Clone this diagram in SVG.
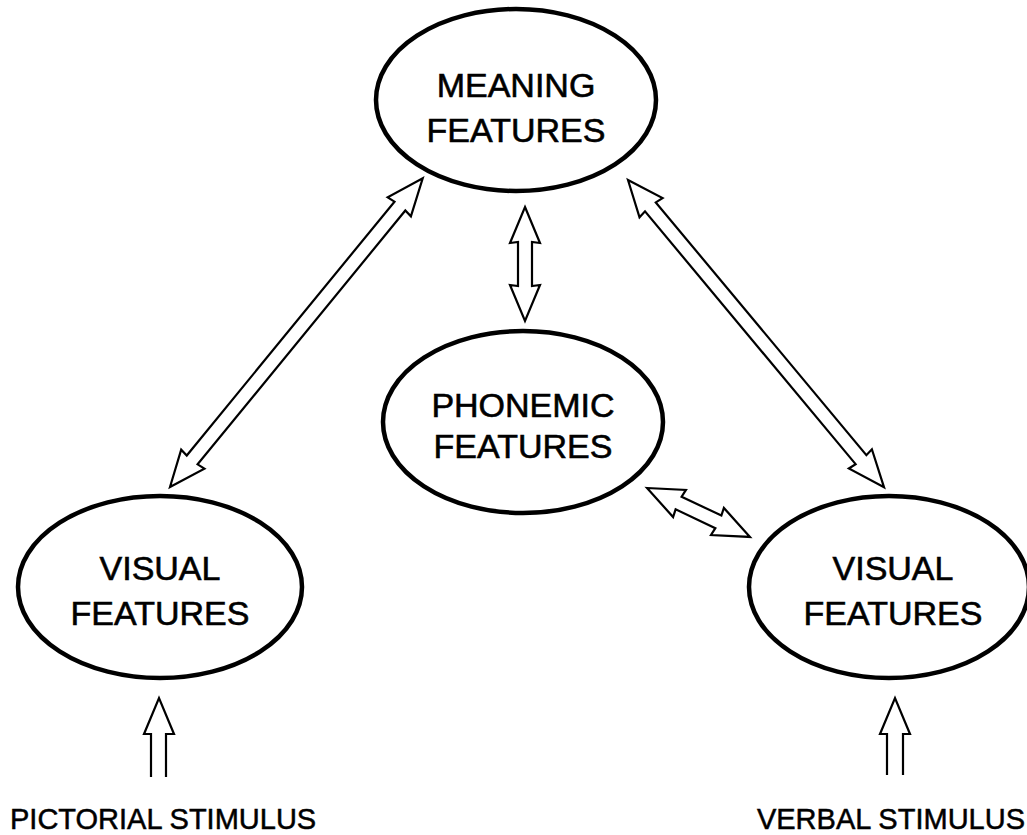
<svg xmlns="http://www.w3.org/2000/svg" width="1027" height="835" viewBox="0 0 1027 835">
<style>
.node{fill:#fff;stroke:#000;stroke-width:4.5}
.lbl{font-family:"Liberation Sans",Arial,sans-serif;font-size:34px;fill:#000;stroke:#000;stroke-width:0.6;text-anchor:middle}
.stim{font-family:"Liberation Sans",Arial,sans-serif;font-size:29px;fill:#000;stroke:#000;stroke-width:0.5}
.arr{fill:#fff;stroke:#000;stroke-width:2.2;stroke-linejoin:miter}
</style>
<rect width="1027" height="835" fill="#fff"/>
<g id="connectors">
  <path class="arr" transform="translate(170,487) rotate(-50.7)" d="M0,0 L36,-15 L35,-7 L363,-7 L362,-15 L399,0 L362,15 L363,7 L35,7 L36,15 Z"/>
  <path class="arr" transform="translate(628,180) rotate(50.2)" d="M0,0 L36,-15 L35,-7 L364,-7 L363,-15 L400,0 L363,15 L364,7 L35,7 L36,15 Z"/>
  <path class="arr" transform="translate(525,207) rotate(90)" d="M0,0 L36,-15 L35,-7 L79,-7 L78,-15 L114,0 L78,15 L79,7 L35,7 L36,15 Z"/>
  <path class="arr" transform="translate(647,488) rotate(25.4)" d="M0,0 L36,-15 L35,-7 L79,-7 L78,-15 L114,0 L78,15 L79,7 L35,7 L36,15 Z"/>
  <path class="arr" d="M151,777 L151,734 L144,734 L159,698 L174,734 L166,734 L166,777"/>
  <path class="arr" d="M887,775 L887,734 L880,734 L895,698 L910,734 L903,734 L903,775"/>
</g>
<g id="meaning">
  <ellipse class="node" cx="516" cy="100" rx="140" ry="91"/>
  <text class="lbl" x="516" y="97">MEANING</text>
  <text class="lbl" x="516" y="142">FEATURES</text>
</g>
<g id="phonemic">
  <ellipse class="node" cx="523" cy="422" rx="140" ry="91"/>
  <text class="lbl" x="523" y="417">PHONEMIC</text>
  <text class="lbl" x="523" y="458">FEATURES</text>
</g>
<g id="visual-left">
  <ellipse class="node" cx="160" cy="587" rx="142" ry="91"/>
  <text class="lbl" x="160" y="580">VISUAL</text>
  <text class="lbl" x="160" y="625">FEATURES</text>
</g>
<g id="visual-right">
  <ellipse class="node" cx="889" cy="587" rx="140" ry="91"/>
  <text class="lbl" x="893" y="580">VISUAL</text>
  <text class="lbl" x="893" y="625">FEATURES</text>
</g>
<g id="pictorial-stimulus">
  <text class="stim" x="10" y="829">PICTORIAL STIMULUS</text>
</g>
<g id="verbal-stimulus">
  <text class="stim" x="1025" y="829" text-anchor="end">VERBAL STIMULUS</text>
</g>
</svg>
